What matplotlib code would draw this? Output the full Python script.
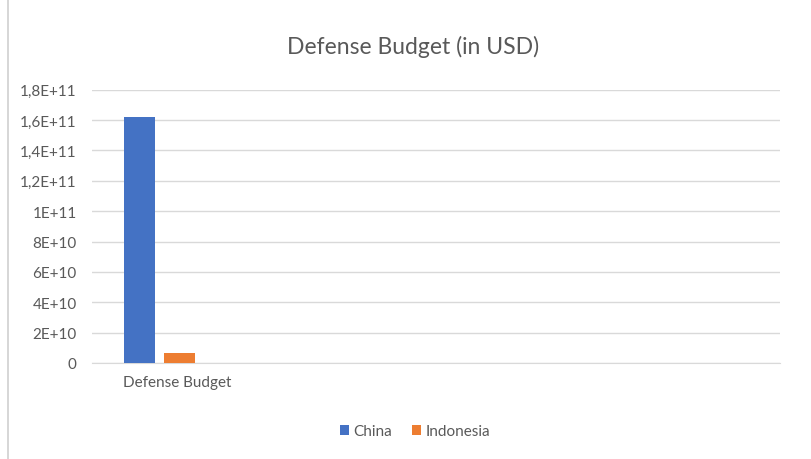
import matplotlib.pyplot as plt

series = ['China', 'Indonesia']
values = [1.617e11, 6.4e9]
colors = ['#4472C4', '#ED7D31']
category = 'Defense Budget'
yticks = [0, 2e10, 4e10, 6e10, 8e10, 1e11, 1.2e11, 1.4e11, 1.6e11, 1.8e11]
ytick_labels = ['0', '2E+10', '4E+10', '6E+10', '8E+10', '1E+11',
                '1,2E+11', '1,4E+11', '1,6E+11', '1,8E+11']

plt.rcParams['font.family'] = ['Lato', 'DejaVu Sans']
text_color = '#595959'

fig = plt.figure(figsize=(8.11, 4.6), dpi=100)
ax = fig.add_axes([0.1134, 0.2087, 0.8486, 0.5941])

width = 0.228
gap = 0.066
offsets = [-(width + gap) / 2, (width + gap) / 2]
for name, v, c, off in zip(series, values, colors, offsets):
    ax.bar(0 + off, v, width=width, color=c, label=name, zorder=3)

ax.set_xlim(-0.5, 4.56)
ax.set_ylim(0, 1.8e11)
ax.set_yticks(yticks)
ax.set_yticklabels(ytick_labels)
ax.set_xticks([0.13])
ax.set_xticklabels([category])
ax.tick_params(axis='both', length=0, colors=text_color, labelsize=11)
ax.tick_params(axis='y', pad=11)
ax.tick_params(axis='x', pad=9)
ax.grid(axis='y', color='#D9D9D9', linewidth=1, zorder=0)
for s in ['top', 'right', 'left']:
    ax.spines[s].set_visible(False)
ax.spines['bottom'].set_color('#D9D9D9')

fig.text(0.509, 0.897, 'Defense Budget (in USD)', ha='center', va='center',
         fontsize=16.5, color=text_color)

fig.legend(loc='center', bbox_to_anchor=(0.512, 0.06), ncol=2, frameon=False,
           handlelength=0.6, handleheight=0.6, handletextpad=0.3, columnspacing=1.3,
           fontsize=11, labelcolor=text_color)

fig.add_artist(plt.Line2D([0.0099, 0.0099], [0.0, 1.0], color='#D0D0D0', linewidth=1.2,
                          transform=fig.transFigure))

fig.savefig('out.png', dpi=100)
